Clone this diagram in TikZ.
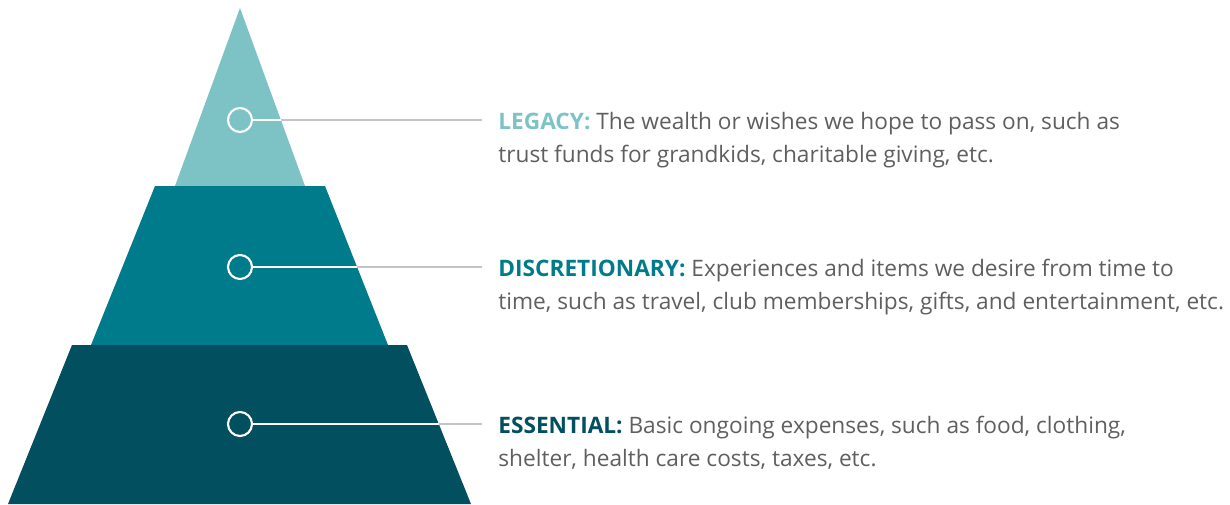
\documentclass[tikz,border=0pt]{standalone}
\usepackage{fontspec}
\setmainfont{Open Sans}
\usetikzlibrary{positioning}
\definecolor{legacyTeal}{HTML}{7DC3C6}
\definecolor{discTeal}{HTML}{007B8B}
\definecolor{essTeal}{HTML}{02505F}
\definecolor{lineGrey}{HTML}{C4C4C6}
\definecolor{bodyGrey}{HTML}{5F5F5F}

\begin{document}
\begin{tikzpicture}[x=0.02cm, y=-0.02cm,
    ring/.style={circle, draw=white, line width=1.2pt, minimum size=0.48cm, inner sep=0pt},
    stub/.style={draw=white, line width=1.1pt},
    leader/.style={draw=lineGrey, line width=1.3pt},
    desc/.style={anchor=base west, align=left, inner sep=0pt,
                 font=\fontsize{12.9}{18.6}\selectfont, text=bodyGrey},
  ]
    \useasboundingbox (0,0) rectangle (1230,504);

    % Pyramid layers, top to bottom
    \fill[legacyTeal] (240,8) -- (305,186) -- (175,186) -- cycle;
    \fill[discTeal] (155,186) -- (325,186) -- (388,345) -- (91,345) -- cycle;
    \fill[essTeal] (72,345) -- (407,345) -- (471,504) -- (8,504) -- cycle;

    % Markers, leaders and descriptions
    \foreach \id/\yy/\xedge/\col/\head/\lineA/\lineB in {%
      L/120/281/legacyTeal/LEGACY:/{The wealth or wishes we hope to pass on, such as}/{trust funds for grandkids, charitable giving, etc.},
      D/267/357/discTeal/DISCRETIONARY:/{Experiences and items we desire from time to}/{time, such as travel, club memberships, gifts, and entertainment, etc.},
      E/424/439/essTeal/ESSENTIAL:/{Basic ongoing expenses, such as food, clothing,}/{shelter, health care costs, taxes, etc.}}{
      \node[ring] (dot\id) at (240,\yy) {};
      \coordinate (edge\id) at (\xedge,\yy);
      \coordinate (end\id) at (482,\yy);
      \draw[stub] (dot\id.east) -- (edge\id);
      \draw[leader] (edge\id) -- (end\id);
      \node[desc] (txt\id) at (498,\yy+42) {{\bfseries\color{\col}\head} \lineA\\\lineB};
    }
  \end{tikzpicture}
\end{document}
